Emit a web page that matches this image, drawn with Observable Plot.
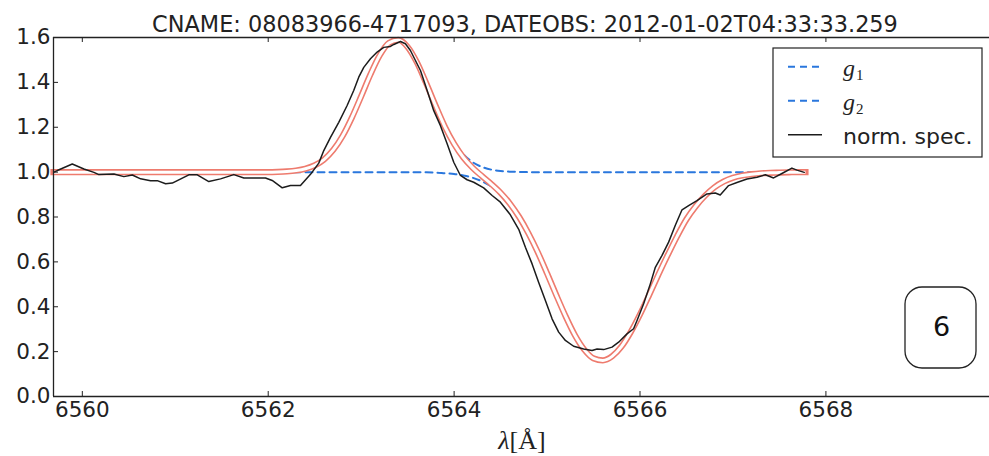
<!DOCTYPE html>
<html><head><meta charset="utf-8">
<script src="https://cdn.jsdelivr.net/npm/d3@7"></script>
<script src="https://cdn.jsdelivr.net/npm/@observablehq/plot@0.6"></script>
<style>
html,body{margin:0;padding:0;background:#fff;}
#chart svg{display:block;}
</style>
</head><body><div id="chart"></div>
<script>
// ---------- data ----------
const titleText = "CNAME: 08083966-4717093, DATEOBS: 2012-01-02T04:33:33.259";
const xTicks = [6560, 6562, 6564, 6566, 6568];
const yTicks = [0, 0.2, 0.4, 0.6, 0.8, 1.0, 1.2, 1.4, 1.6];
const panelLabel = "6";
const legendNames = ["g", "g", "norm. spec."];
const legendSubs = ["1", "2", ""];

// model wavelength grid
const lam = [6559.69, 6562.0, 6562.1, 6562.2, 6562.3, 6562.4, 6562.5, 6562.6, 6562.7, 6562.8, 6562.9,
  6563.0, 6563.1, 6563.2, 6563.3, 6563.4, 6563.5, 6563.6, 6563.7, 6563.8, 6563.9,
  6564.0, 6564.1, 6564.2, 6564.3, 6564.4, 6564.5, 6564.6, 6564.7, 6564.8, 6564.9,
  6565.0, 6565.1, 6565.2, 6565.3, 6565.4, 6565.5, 6565.6, 6565.7, 6565.8, 6565.9,
  6566.0, 6566.1, 6566.2, 6566.3, 6566.4, 6566.5, 6566.6, 6566.7, 6566.8, 6566.9,
  6567.0, 6567.1, 6567.2, 6567.3, 6567.4, 6567.5, 6567.6, 6567.7, 6567.78];

// emission component g1
const g1 = [1.000, 1.000, 1.001, 1.003, 1.007, 1.015, 1.030, 1.056, 1.099, 1.161, 1.243,
  1.338, 1.436, 1.521, 1.576, 1.589, 1.558, 1.490, 1.397, 1.299, 1.208,
  1.134, 1.080, 1.044, 1.023, 1.011, 1.005, 1.002, 1.001, 1.000, 1.000,
  1.000, 1.000, 1.000, 1.000, 1.000, 1.000, 1.000, 1.000, 1.000, 1.000,
  1.000, 1.000, 1.000, 1.000, 1.000, 1.000, 1.000, 1.000, 1.000, 1.000,
  1.000, 1.000, 1.000, 1.000, 1.000, 1.000, 1.000, 1.000, 1.000];

// absorption component g2
const g2 = [1.000, 1.000, 1.000, 1.000, 1.000, 1.000, 1.000, 1.000, 1.000, 1.000, 1.000,
  1.000, 1.000, 1.000, 1.000, 1.000, 1.000, 0.999, 0.999, 0.998, 0.995,
  0.992, 0.985, 0.975, 0.959, 0.936, 0.903, 0.858, 0.799, 0.727, 0.643,
  0.549, 0.451, 0.357, 0.273, 0.209, 0.170, 0.161, 0.179, 0.222, 0.287,
  0.366, 0.454, 0.545, 0.632, 0.715, 0.790, 0.848, 0.895, 0.932, 0.958,
  0.975, 0.985, 0.991, 0.995, 0.997, 0.998, 0.999, 1.000, 1.000];

// combined fit
const fit = [1.000, 1.000, 1.001, 1.003, 1.007, 1.015, 1.030, 1.056, 1.099, 1.161, 1.243,
  1.338, 1.436, 1.521, 1.576, 1.589, 1.558, 1.489, 1.396, 1.297, 1.203,
  1.126, 1.065, 1.019, 0.982, 0.947, 0.908, 0.860, 0.800, 0.727, 0.643,
  0.549, 0.451, 0.357, 0.273, 0.209, 0.170, 0.161, 0.179, 0.222, 0.287,
  0.366, 0.454, 0.545, 0.632, 0.715, 0.790, 0.848, 0.895, 0.932, 0.958,
  0.975, 0.985, 0.991, 0.995, 0.997, 0.998, 0.999, 1.000, 1.000];

// normalised spectrum
const specLam = [6559.695, 6559.731, 6559.892, 6560.017, 6560.125, 6560.178, 6560.340, 6560.447, 6560.538, 6560.627,
  6560.734, 6560.806, 6560.896, 6560.968, 6561.146, 6561.237, 6561.361, 6561.487, 6561.630, 6561.738,
  6561.845, 6561.971, 6562.043, 6562.151, 6562.240, 6562.347, 6562.455, 6562.544, 6562.598, 6562.670,
  6562.759, 6562.849, 6562.920, 6562.974, 6563.028, 6563.100, 6563.172, 6563.243, 6563.315, 6563.351,
  6563.423, 6563.476, 6563.530, 6563.638, 6563.710, 6563.781, 6563.853, 6563.925, 6563.996, 6564.068,
  6564.140, 6564.211, 6564.318, 6564.409, 6564.498, 6564.605, 6564.695, 6564.767, 6564.839, 6564.910,
  6564.982, 6565.054, 6565.125, 6565.197, 6565.286, 6565.394, 6565.484, 6565.538, 6565.609, 6565.699,
  6565.770, 6565.860, 6565.931, 6565.968, 6566.039, 6566.111, 6566.165, 6566.237, 6566.308, 6566.380,
  6566.452, 6566.523, 6566.613, 6566.720, 6566.810, 6566.863, 6566.953, 6567.043, 6567.151, 6567.258,
  6567.348, 6567.437, 6567.527, 6567.634, 6567.688, 6567.767];
const specFlux = [1.000, 1.007, 1.036, 1.014, 0.999, 0.989, 0.992, 0.980, 0.987, 0.970,
  0.962, 0.962, 0.948, 0.951, 0.988, 0.988, 0.958, 0.970, 0.989, 0.974,
  0.974, 0.974, 0.963, 0.930, 0.940, 0.940, 0.990, 1.040, 1.096, 1.155,
  1.222, 1.297, 1.364, 1.423, 1.467, 1.505, 1.535, 1.556, 1.560, 1.569,
  1.582, 1.572, 1.542, 1.453, 1.364, 1.274, 1.207, 1.126, 1.044, 0.985,
  0.966, 0.955, 0.930, 0.896, 0.866, 0.810, 0.745, 0.665, 0.591, 0.508,
  0.428, 0.346, 0.287, 0.250, 0.224, 0.212, 0.205, 0.212, 0.209, 0.220,
  0.242, 0.279, 0.302, 0.339, 0.413, 0.502, 0.576, 0.629, 0.688, 0.763,
  0.832, 0.851, 0.873, 0.903, 0.907, 0.898, 0.940, 0.954, 0.969, 0.977,
  0.988, 0.974, 0.994, 1.018, 1.009, 0.999];

// ---------- chart ----------
const W = 989, H = 456, mL = 53, mR = 0, mT = 37, mB = 60;
const fw = W - mL - mR, fh = H - mT - mB;
const models = lam.map((x, i) => ({x, g1: g1[i], g2: g2[i], fit: fit[i]}));
const spec = specLam.map((x, i) => ({x, y: specFlux[i]}));
const blue = "#2a77dd", red = "#ee7b6e", ink = "#222";
const font = "DejaVu Sans";

const plot = Plot.plot({
  width: W, height: H,
  marginLeft: mL, marginRight: mR, marginTop: mT, marginBottom: mB,
  style: {fontFamily: font, fontSize: "21.5px", color: ink, background: "white"},
  x: {domain: [6559.69, 6569.76], label: null},
  y: {domain: [0, 1.6], label: null},
  marks: [
    Plot.line(models, {x: "x", y: "g1", stroke: blue, strokeWidth: 2, strokeDasharray: "7,5", curve: "monotone-x"}),
    Plot.line(models, {x: "x", y: "g2", stroke: blue, strokeWidth: 2, strokeDasharray: "7,5", curve: "monotone-x"}),
    Plot.line(models, {x: "x", y: "fit", stroke: red, strokeWidth: 6.2, strokeLinecap: "square", curve: "monotone-x"}),
    Plot.line(models, {x: "x", y: "fit", stroke: "white", strokeWidth: 3, strokeLinecap: "butt", curve: "monotone-x"}),
    Plot.line(spec, {x: "x", y: "y", stroke: "#1c1c1c", strokeWidth: 1.5, strokeLinejoin: "round"}),
    Plot.ruleY([0], {stroke: ink, strokeWidth: 1.3}),
    Plot.ruleY([1.6], {stroke: ink, strokeWidth: 1.3}),
    Plot.ruleX([6559.69], {stroke: ink, strokeWidth: 1.3}),
    Plot.tickX(xTicks, {x: d => d, insetTop: fh - 5, stroke: ink, strokeWidth: 1}),
    Plot.tickX(xTicks, {x: d => d, insetBottom: fh - 5, stroke: ink, strokeWidth: 1}),
    Plot.tickY(yTicks, {y: d => d, insetRight: fw - 5, stroke: ink, strokeWidth: 1}),
    Plot.axisX({ticks: xTicks, tickSize: 0, tickPadding: 5, tickFormat: d => String(d), label: null, fontSize: 21.5}),
    Plot.axisY({ticks: yTicks, tickSize: 0, tickPadding: 3, tickFormat: d3.format(".1f"), label: null, fontSize: 21.5})
  ]
});

const svg = d3.select(plot);

// title
svg.append("text").attr("x", 525).attr("y", 31.5).attr("text-anchor", "middle")
  .attr("font-family", font).attr("font-size", 22.4).attr("fill", ink).text(titleText);

// x label
const xl = svg.append("text").attr("x", 522).attr("y", 449).attr("text-anchor", "middle")
  .attr("font-family", "Liberation Serif").attr("font-size", 26).attr("fill", ink);
xl.append("tspan").attr("font-style", "italic").text("λ");
xl.append("tspan").text("[Å]");

// legend
const lg = svg.append("g").attr("text-anchor", "start");
lg.append("rect").attr("x", 773).attr("y", 48).attr("width", 209).attr("height", 109)
  .attr("fill", "white").attr("stroke", ink).attr("stroke-width", 1.2);
const rowY = [66.7, 100.7, 134.7];
legendNames.forEach((name, i) => {
  const y = rowY[i];
  lg.append("line").attr("x1", 788).attr("x2", 822).attr("y1", y).attr("y2", y)
    .attr("stroke", i < 2 ? blue : "#1c1c1c").attr("stroke-width", i < 2 ? 2 : 1.6)
    .attr("stroke-dasharray", i < 2 ? "7,5" : null);
  if (i < 2) {
    const t = lg.append("text").attr("x", 843).attr("y", y + 9.3).attr("text-anchor", "start")
      .attr("font-family", "Liberation Serif").attr("font-size", 24).attr("fill", ink);
    t.append("tspan").attr("font-style", "italic").text(name);
    t.append("tspan").attr("font-size", 15).attr("dy", 4).attr("dx", 1).text(legendSubs[i]);
  } else {
    lg.append("text").attr("x", 843).attr("y", y + 9.3).attr("text-anchor", "start")
      .attr("font-family", font).attr("font-size", 22).attr("fill", ink).text(name);
  }
});

// panel number box
svg.append("rect").attr("x", 905).attr("y", 287).attr("width", 71).attr("height", 81)
  .attr("rx", 17).attr("ry", 17).attr("fill", "white").attr("stroke", ink).attr("stroke-width", 1.3);
svg.append("text").attr("x", 941.5).attr("y", 335.5).attr("text-anchor", "middle")
  .attr("font-family", font).attr("font-size", 27).attr("fill", "#111").text(panelLabel);

document.getElementById("chart").appendChild(plot);
</script>
</body></html>
